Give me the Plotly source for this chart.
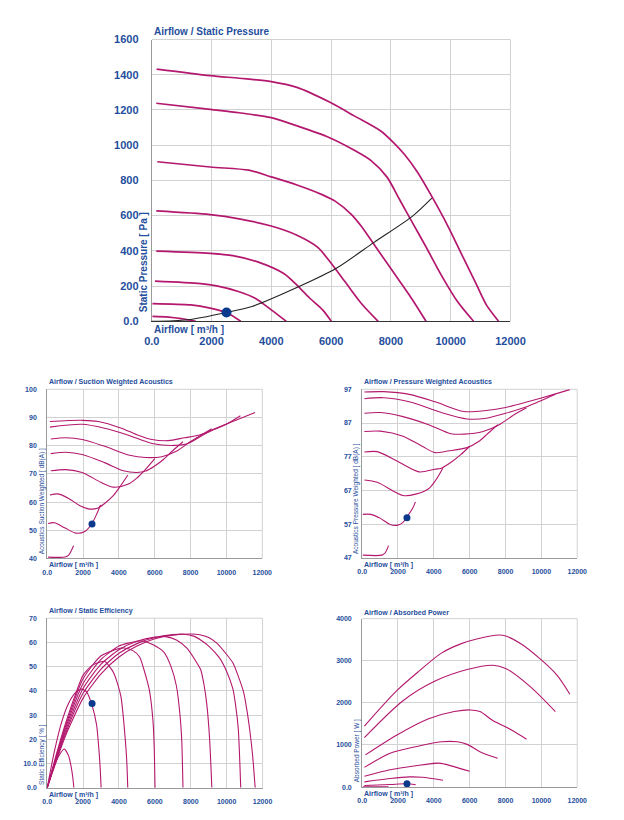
import plotly.graph_objects as go

W, H = 624, 820
BLUE = "#1F4E9C"
MAG = "#B3186E"
DOT = "#0B3A8C"
GRID = "#D2D2D2"
FONT = "Liberation Sans, Arial, sans-serif"

# ---------------- data ----------------
airflow_ticks = [0, 2000, 4000, 6000, 8000, 10000, 12000]
airflow_ticktext = ["0.0", "2000", "4000", "6000", "8000", "10000", "12000"]

# Airflow / Static Pressure (8 speeds)
pressure_x = [
    [161, 1955, 2922, 3996, 4856, 5930, 6790, 7649, 8079, 8455, 8885, 9368, 9905, 10442, 10872, 11194, 11602],
    [150, 1955, 2922, 3996, 4856, 5930, 6790, 7327, 7864, 8294, 8724, 9153, 9690, 10227, 10764],
    [183, 1955, 3244, 3996, 4856, 5715, 6145, 6682, 7004, 7541, 8079, 8616, 9175],
    [150, 1955, 2922, 3996, 4856, 5554, 5930, 6467, 7004, 7574],
    [150, 1955, 2707, 3567, 4426, 4856, 5286, 5715, 6005],
    [107, 1633, 2170, 2922, 3459, 3996, 4501],
    [21, 1311, 1955, 2492, 2976],
    [21, 559, 988, 1472],
]
pressure_y = [
    [1432, 1395, 1380, 1361, 1328, 1246, 1165, 1082, 1016, 947, 848, 709, 541, 354, 205, 93, 0],
    [1238, 1203, 1184, 1156, 1110, 1044, 970, 914, 820, 690, 559, 429, 261, 112, 0],
    [906, 876, 858, 820, 774, 718, 681, 606, 541, 410, 280, 149, 0],
    [627, 606, 582, 541, 489, 420, 345, 224, 103, 0],
    [399, 386, 373, 336, 270, 205, 131, 65, 0],
    [228, 214, 201, 168, 131, 65, 0],
    [101, 93, 75, 50, 0],
    [28, 24, 15, 0],
]
system_x = [0, 1203, 2492, 3352, 4963, 6145, 7434, 8724, 9368]
system_y = [0, 9, 50, 84, 200, 298, 448, 597, 699]
pressure_ticks = [0, 200, 400, 600, 800, 1000, 1200, 1400, 1600]
pressure_ticktext = ["0.0", "200", "400", "600", "800", "1000", "1200", "1400", "1600"]

# Airflow / Suction Weighted Acoustics
suction_x = [
    [150, 1950, 2850, 4100, 5000, 5850, 6750, 7650, 8550, 9450, 10350, 11600],
    [150, 1950, 3200, 4450, 5850, 7100, 7850, 8900, 10000, 10780],
    [200, 1050, 1950, 3200, 4600, 5500, 6400, 7200, 8000, 8600, 9175],
    [200, 1050, 1950, 3200, 4250, 5000, 5500, 6000, 6500, 7000, 7574],
    [200, 1050, 1950, 3000, 3700, 4500, 5000, 5500, 6005],
    [150, 600, 1200, 1800, 2300, 2800, 3200, 3700, 4100, 4501],
    [50, 400, 1000, 1600, 2100, 2500, 2800, 2976],
    [50, 500, 1000, 1200, 1350, 1472],
]
suction_y = [
    [88.6, 89.0, 88.6, 86.3, 83.9, 82.2, 81.8, 82.8, 83.9, 86.3, 88.6, 91.8],
    [86.6, 87.6, 86.2, 83.9, 80.8, 80.1, 80.8, 84.5, 87.6, 90.6],
    [82.4, 82.8, 82.2, 79.8, 76.6, 75.8, 76.1, 78.0, 81.5, 83.8, 86.0],
    [77.2, 77.7, 76.9, 74.0, 71.1, 70.5, 71.0, 72.8, 75.2, 78.2, 81.4],
    [71.1, 71.5, 70.5, 67.0, 65.3, 66.3, 68.5, 71.7, 75.4],
    [62.5, 62.9, 61.3, 58.8, 57.6, 57.8, 59.5, 62.4, 65.8, 69.6],
    [52.4, 52.7, 50.8, 49.0, 49.6, 52.4, 56.3, 59.0],
    [40.5, 40.4, 40.5, 41.2, 42.8, 44.5],
]
suction_ticks = [40, 50, 60, 70, 80, 90, 100]

# Airflow / Pressure Weighted Acoustics
pweighted_x = [
    [125, 1200, 2630, 4070, 5680, 6930, 8010, 9440, 10510, 11590],
    [125, 1200, 2630, 4420, 5860, 6930, 8010, 9260, 10780],
    [125, 1020, 2280, 3710, 4960, 5680, 6750, 7650, 8500, 9175],
    [125, 1020, 2280, 3350, 4070, 4780, 5860, 6500, 7000, 7574],
    [125, 840, 1920, 3170, 4070, 4420, 5000, 5500, 6005],
    [125, 840, 2280, 2990, 3710, 4100, 4501],
    [36, 480, 1020, 1560, 2000, 2280, 2470, 2810, 2976],
    [36, 1110, 1290, 1470],
]
pweighted_y = [
    [96.2, 96.3, 95.5, 93.3, 90.4, 90.7, 91.6, 93.6, 95.2, 96.9],
    [94.2, 94.5, 93.3, 90.1, 88.2, 88.4, 89.9, 92.0, 95.5],
    [89.9, 90.1, 88.9, 86.5, 83.8, 83.7, 84.5, 86.5, 89.5, 91.5],
    [84.5, 84.6, 83.1, 80.1, 78.2, 78.7, 79.7, 81.5, 83.8, 86.5],
    [78.4, 78.5, 75.8, 72.5, 73.3, 73.6, 75.5, 77.6, 80.1],
    [70.1, 69.4, 65.5, 65.9, 67.5, 70.0, 73.6],
    [59.9, 59.9, 58.7, 56.9, 56.7, 57.5, 58.9, 61.6, 63.6],
    [47.8, 47.8, 48.5, 50.6],
]
pweighted_ticks = [47, 57, 67, 77, 87, 97]

# Airflow / Static Efficiency
eff_x = [
    [0, 1000, 2000, 3000, 4000, 5000, 6000, 7000, 8000, 8500, 9000, 9450, 10000, 10350, 10650, 10950, 11150, 11300, 11450, 11589],
    [0, 1000, 2000, 3000, 4000, 5000, 6000, 7000, 7600, 8200, 8550, 9000, 9600, 10000, 10350, 10500, 10650, 10784],
    [0, 1000, 2000, 3000, 4000, 5000, 6000, 6600, 7200, 7800, 8300, 8550, 8750, 8900, 9050, 9174],
    [0, 1000, 2000, 3000, 4000, 5000, 5300, 5900, 6500, 6900, 7200, 7400, 7500, 7565],
    [0, 1000, 2000, 3000, 4000, 4300, 4800, 5150, 5500, 5700, 5900, 5970, 6009],
    [0, 500, 1000, 1500, 2000, 2500, 3000, 3200, 3700, 4100, 4350, 4440, 4489],
    [0, 400, 800, 1200, 1600, 1930, 2200, 2500, 2750, 2900, 2960, 3005],
    [0, 300, 600, 950, 1200, 1350, 1430, 1484],
]
eff_y = [
    [0, 21, 37, 47, 54, 58.5, 61.5, 63, 63.5, 63.2, 62, 59.7, 55, 51.5, 46, 39.3, 31, 23, 13, 0],
    [0, 22, 39, 49, 55.5, 59.5, 62, 63.2, 63.4, 62.5, 61, 58.5, 53.6, 48, 40.7, 34, 24, 0],
    [0, 23, 41, 51, 57, 60.5, 62.2, 62.4, 61, 57.5, 52, 48.8, 42, 34, 20, 0],
    [0, 24, 43, 53, 58.5, 60.5, 60.6, 59, 56, 50, 42, 30, 19, 0],
    [0, 25, 45, 54.5, 57.5, 57.7, 56.5, 54, 46, 40, 27, 15, 0],
    [0, 13.5, 26, 37, 46.5, 50.5, 52, 52.2, 47.5, 38, 20, 10, 0],
    [0, 15, 27, 35, 39.5, 40.7, 39.5, 34, 26, 14, 7, 0],
    [0, 7, 12.5, 16, 13, 8, 4, 0],
]
eff_ticks = [0, 10, 20, 30, 40, 50, 60, 70]
eff_ticktext = ["0.0", "10.0", "20", "30", "40", "50", "60", "70"]

# Airflow / Absorbed Power
power_x = [
    [125, 1920, 3170, 4420, 5500, 6390, 7650, 8010, 8900, 9980, 10870, 11590],
    [125, 2280, 4070, 5860, 7290, 8010, 9440, 10780],
    [180, 1920, 3710, 5140, 6040, 6570, 7290, 8360, 9170],
    [125, 1560, 2990, 4420, 5320, 5860, 6570, 7560],
    [125, 1560, 2990, 4250, 4600, 6000],
    [125, 1560, 2630, 3350, 4510],
    [125, 1560, 2450, 2990],
    [36, 1470],
]
power_y = [
    [1450, 2285, 2752, 3181, 3400, 3516, 3610, 3587, 3392, 3025, 2659, 2206],
    [1177, 2051, 2518, 2791, 2893, 2815, 2362, 1793],
    [764, 1232, 1622, 1793, 1832, 1793, 1583, 1349, 1138],
    [468, 803, 959, 1076, 1076, 1014, 842, 686],
    [257, 413, 507, 569, 546, 374],
    [125, 203, 242, 234, 164],
    [39, 62, 78, 55],
    [8, 8],
]
power_ticks = [0, 1000, 2000, 3000, 4000]
power_ticktext = ["0.0", "1000", "2000", "3000", "4000"]

# operating point
op_airflow = 2500
op_pressure = 50
op_suction = 52.2
op_pweighted = 58.9
op_eff = 34.8
op_power = 78

# ---------------- layout helpers ----------------
def xdom(a, b):
    return [a / W, b / W]


def ydom(top, bottom):
    return [1 - bottom / H, 1 - top / H]


panels = [
    dict(n="", xs=pressure_x, ys=pressure_y, yr=[0, 1600], yt=pressure_ticks, ytt=pressure_ticktext,
         box=(149.3, 521.7, 34, 320), title="Airflow / Static Pressure", ytitle="Static Pressure [ Pa ]",
         big=True, op=op_pressure, ytx=141, ytoff=7, smooth=0.8),
    dict(n="2", xs=suction_x, ys=suction_y, yr=[40, 100], yt=suction_ticks, ytt=[str(v) for v in suction_ticks],
         box=(40.7, 264, 389, 560.7), title="Airflow / Suction Weighted Acoustics",
         ytitle="Acoustics Suction Weighted [ dB(A) ]", big=False, op=op_suction, ytx=35, ytoff=2, smooth=0.8),
    dict(n="3", xs=pweighted_x, ys=pweighted_y, yr=[47, 97], yt=pweighted_ticks,
         ytt=[str(v) for v in pweighted_ticks],
         box=(367.7, 591, 389, 560), title="Airflow / Pressure Weighted Acoustics",
         ytitle="Acoustics Pressure Weighted [ dB(A) ]", big=False, op=op_pweighted, ytx=362, ytoff=2,
         smooth=0.8),
    dict(n="4", xs=eff_x, ys=eff_y, yr=[0, 70], yt=eff_ticks, ytt=eff_ticktext,
         box=(40.7, 264.3, 621.3, 793.3), title="Airflow / Static Efficiency",
         ytitle="Static Efficiency [ % ]", big=False, op=op_eff, ytx=35, ytoff=1, smooth=0.6),
    dict(n="5", xs=power_x, ys=power_y, yr=[0, 4000], yt=power_ticks, ytt=power_ticktext,
         box=(367.7, 591, 621.7, 792.7), title="Airflow / Absorbed Power",
         ytitle="Absorbed Power [ W ]", big=False, op=op_power, ytx=362, ytoff=3, smooth=0.8),
]

fig = go.Figure()
annotations = []
shapes = []
layout = dict(
    width=W, height=H, margin=dict(l=0, r=0, t=0, b=0),
    paper_bgcolor="white", plot_bgcolor="white", showlegend=False,
    font=dict(family=FONT, color=BLUE),
)

for p in panels:
    n = p["n"]
    xa, ya = "x" + n, "y" + n
    big = p["big"]
    lw = 1.7 if big else 1.1
    for xs, ys in zip(p["xs"], p["ys"]):
        fig.add_trace(go.Scatter(x=xs, y=ys, mode="lines", xaxis=xa, yaxis=ya,
                                 line=dict(color=MAG, width=lw, shape="spline", smoothing=p["smooth"]),
                                 hoverinfo="skip"))
    if big:
        fig.add_trace(go.Scatter(x=system_x, y=system_y, mode="lines", xaxis=xa, yaxis=ya,
                                 line=dict(color="#222222", width=1.1, shape="spline", smoothing=0.8),
                                 hoverinfo="skip"))
    fig.add_trace(go.Scatter(x=[op_airflow], y=[p["op"]], mode="markers", xaxis=xa, yaxis=ya,
                             marker=dict(color=DOT, size=10 if big else 7, line=dict(width=0)),
                             hoverinfo="skip"))

    x0, x1, t, b = p["box"]
    tf = dict(family=FONT, size=11 if big else 7, color=BLUE, weight="bold")
    layout["xaxis" + n] = dict(
        domain=xdom(x0, x1), anchor=ya, range=[0, 12000], tickvals=airflow_ticks,
        ticktext=airflow_ticktext, showgrid=True, gridcolor=GRID, gridwidth=1,
        showline=True, linecolor="#333333" if big else "#9a9a9a", linewidth=1, mirror=False,
        zeroline=False, ticks="", tickfont=tf, ticklabelstandoff=9 if big else 7,
        fixedrange=True,
    )
    layout["yaxis" + n] = dict(
        domain=ydom(t, b), anchor=xa, range=p["yr"], tickvals=p["yt"], ticktext=p["ytt"],
        showgrid=True, gridcolor=GRID, gridwidth=1, showline=True, linecolor="#9a9a9a",
        linewidth=1, zeroline=False, ticks="", tickfont=tf,
        ticklabelstandoff=10 if big else 8, fixedrange=True,
    )
    # light frame on top and right edges
    xd_ref = ("x" + n) + " domain"
    yd_ref = ("y" + n) + " domain"
    shapes.append(dict(type="line", xref=xd_ref, yref=yd_ref, x0=0, x1=1, y0=1, y1=1,
                       line=dict(color=GRID, width=1), layer="below"))
    shapes.append(dict(type="line", xref=xd_ref, yref=yd_ref, x0=1, x1=1, y0=0, y1=1,
                       line=dict(color=GRID, width=1), layer="below"))
    # chart title
    annotations.append(dict(
        text=p["title"], xref="paper", yref="paper", x=x0 / W, y=1 - (t - 1) / H,
        xanchor="left", yanchor="bottom", showarrow=False,
        font=dict(family=FONT, size=10 if big else 7, color=BLUE, weight="bold"),
    ))
    # x axis title
    annotations.append(dict(
        text="Airflow [ m³/h ]", xref="paper", yref="paper", x=x0 / W, y=1 - (b + 1) / H,
        xanchor="left", yanchor="top", showarrow=False,
        font=dict(family=FONT, size=10 if big else 7, color=BLUE, weight="bold"),
    ))
    # y axis title
    annotations.append(dict(
        text=p["ytitle"], xref="paper", yref="paper", x=p["ytx"] / W, y=1 - (b - p["ytoff"]) / H,
        xanchor="center", yanchor="bottom", textangle=-90, showarrow=False,
        font=dict(family=FONT, size=10 if big else 6.5, color=BLUE,
                  weight="bold" if big else "normal"),
    ))

layout["annotations"] = annotations
layout["shapes"] = shapes
fig.update_layout(**layout)
fig.write_html("out.html")
